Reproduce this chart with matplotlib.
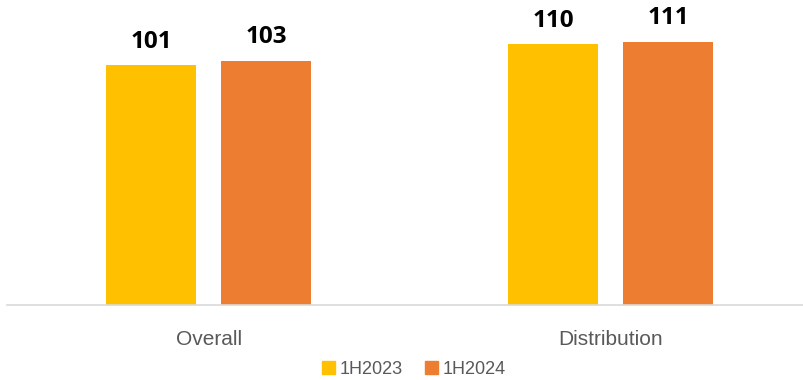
import matplotlib.pyplot as plt
import numpy as np
from matplotlib.patches import Patch

categories = ["Overall", "Distribution"]
series_names = ["1H2023", "1H2024"]
values_2023 = [101, 110]
values_2024 = [103, 111]
colors = ["#FFC000", "#ED7D31"]

fig = plt.figure(figsize=(8.04, 3.80), dpi=100)
ax = fig.add_axes([0.0, 0.197, 1.0, 0.803])

x = np.arange(len(categories))
w = 0.225
off = 0.143
b1 = ax.bar(x - off, values_2023, w, color=colors[0], zorder=2)
b2 = ax.bar(x + off, values_2024, w, color=colors[1], zorder=2)

for bars, vals in ((b1, values_2023), (b2, values_2024)):
    for b, v in zip(bars, vals):
        ax.annotate(str(v), (b.get_x() + b.get_width() / 2, v),
                    xytext=(0, 8), textcoords="offset points",
                    ha="center", va="bottom", fontsize=17.5, fontweight="bold",
                    family="Open Sans", color="black")

ax.set_xlim(-0.519, 1.481)
ax.set_ylim(0, 128.5)
ax.set_xticks(x)
ax.set_xticklabels(categories, family="Liberation Sans", fontsize=15, color="#595959")
ax.tick_params(axis="x", length=0, pad=18)
ax.set_yticks([])
for s in ["top", "right", "left", "bottom"]:
    ax.spines[s].set_visible(False)
# baseline starts a few pixels in from the left edge
ax.plot([0.009, 1.0], [0, 0], transform=ax.transAxes,
        color="#D9D9D9", lw=1.2, clip_on=False, zorder=3)

handles = [Patch(color=c) for c in colors]
fig.legend(handles, series_names, loc="lower center", bbox_to_anchor=(0.515, -0.037),
           ncol=2, frameon=False, handlelength=0.7, handleheight=0.7,
           handletextpad=0.3, columnspacing=1.2,
           prop={"family": "Liberation Sans", "size": 13})
for t in fig.legends[0].get_texts():
    t.set_color("#595959")

fig.savefig("out.png", dpi=100)
